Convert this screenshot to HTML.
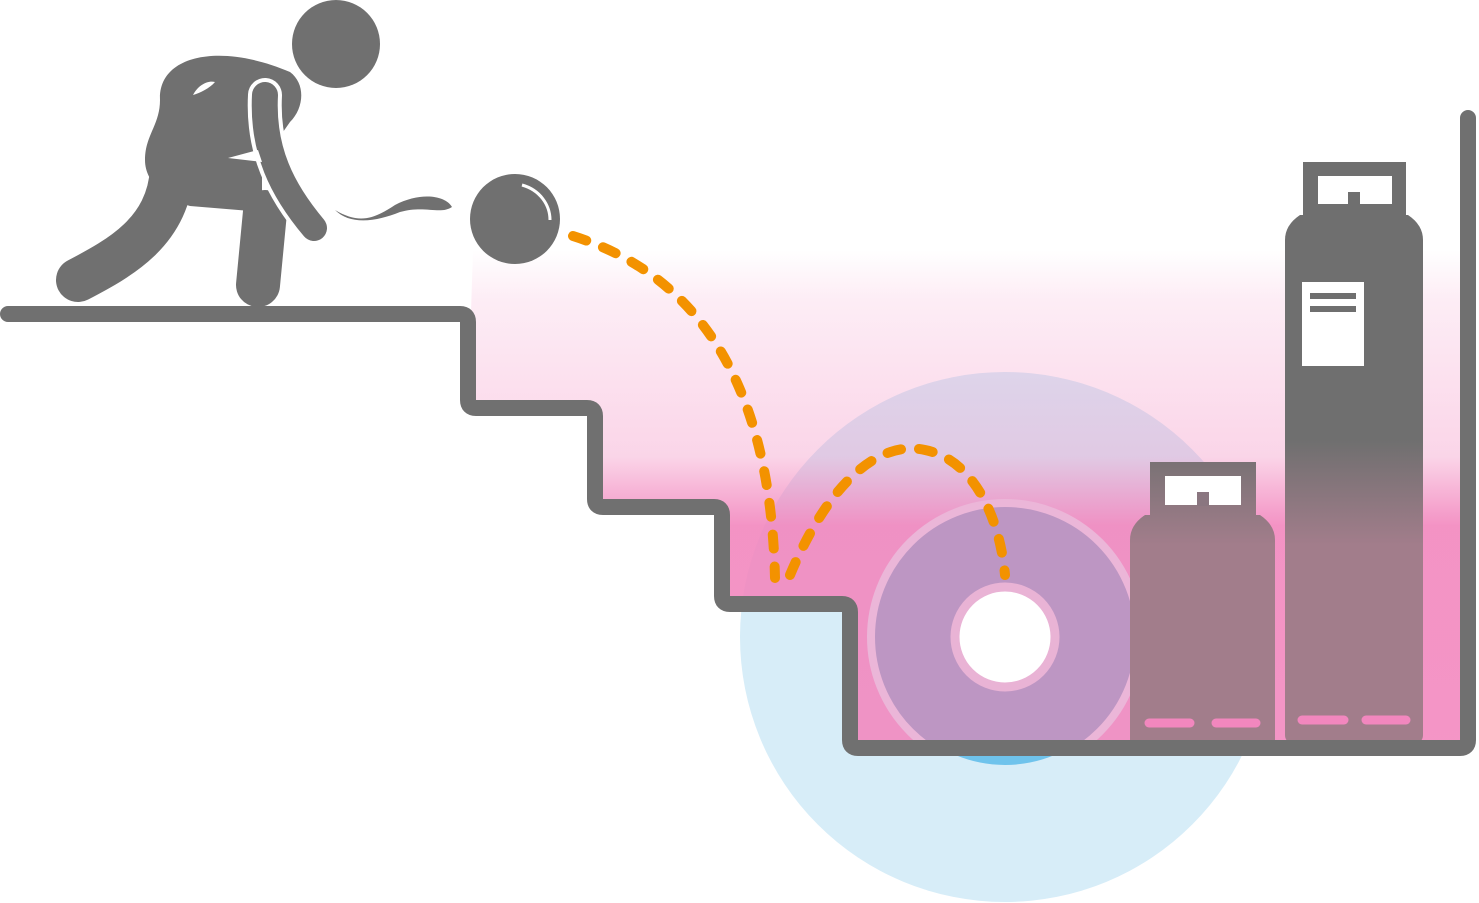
<!DOCTYPE html>
<html><head><meta charset="utf-8"><style>html,body{margin:0;padding:0;background:#fff}svg{display:block}</style></head>
<body>
<svg width="1479" height="903" viewBox="0 0 1479 903" xmlns="http://www.w3.org/2000/svg">
<defs>
<linearGradient id="pk" x1="0" y1="250" x2="0" y2="742" gradientUnits="userSpaceOnUse">
<stop offset="0" stop-color="#f287be" stop-opacity="0"/>
<stop offset="0.1" stop-color="#f287be" stop-opacity="0.15"/>
<stop offset="0.42" stop-color="#f287be" stop-opacity="0.35"/>
<stop offset="0.56" stop-color="#f287be" stop-opacity="0.9"/>
<stop offset="1" stop-color="#f287be" stop-opacity="0.88"/>
</linearGradient>
<linearGradient id="cy" x1="0" y1="440" x2="0" y2="545" gradientUnits="userSpaceOnUse">
<stop offset="0" stop-color="#6f6f6f"/>
<stop offset="1" stop-color="#a27d8b"/>
</linearGradient>
<clipPath id="reg"><path d="M473,250 L1462,250 L1462,742 L850,742 L850,600 L722,600 L722,502 L595,502 L595,404 L468,404 Z"/></clipPath>
</defs>
<circle cx="1005" cy="637" r="265" fill="#d7edf8"/>
<circle cx="1005" cy="637" r="128" fill="#6fc3ec"/>
<rect x="468" y="250" width="995" height="495" fill="url(#pk)" clip-path="url(#reg)"/>
<g clip-path="url(#reg)">
<circle cx="1005" cy="637" r="134" fill="#bd96c3" stroke="#ebb6d8" stroke-width="8"/>
</g>
<circle cx="1005" cy="637" r="50" fill="#fff" stroke="#e9b3d5" stroke-width="9"/>
<g fill="url(#cy)">
<rect x="1303" y="162" width="103" height="55"/>
<path d="M1300,215 L1408,215 Q1423,225 1423,240 L1423,735 Q1423,742 1416,742 L1292,742 Q1285,742 1285,735 L1285,240 Q1285,225 1300,215 Z"/>
<rect x="1150" y="462" width="106" height="55"/>
<path d="M1145,515 L1260,515 Q1275,525 1275,540 L1275,742 L1130,742 L1130,540 Q1130,525 1145,515 Z"/>
</g>
<rect x="1318" y="176" width="74" height="28" fill="#fff"/>
<rect x="1348" y="192" width="12" height="14" fill="#6f6f6f"/>
<rect x="1165" y="476" width="76" height="29" fill="#fff"/>
<rect x="1197" y="492" width="12" height="14" fill="#8a7680"/>
<rect x="1302" y="282" width="62" height="84" fill="#fff"/>
<line x1="1310" y1="296" x2="1356" y2="296" stroke="#6f6f6f" stroke-width="6"/>
<line x1="1310" y1="309" x2="1356" y2="309" stroke="#6f6f6f" stroke-width="6"/>
<g stroke="#f287be" stroke-width="9" stroke-linecap="round">
<line x1="1302" y1="720" x2="1344" y2="720"/><line x1="1366" y1="720" x2="1406" y2="720"/>
<line x1="1149" y1="723" x2="1190" y2="723"/><line x1="1216" y1="723" x2="1256" y2="723"/>
</g>
<path d="M8,314 L460,314 Q468,314 468,322 L468,400 Q468,408 476,408 L587,408 Q595,408 595,416 L595,499 Q595,507 603,507 L714,507 Q722,507 722,515 L722,596 Q722,604 730,604 L842,604 Q850,604 850,612 L850,740 Q850,748 858,748 L1460,748 Q1468,748 1468,740 L1468,118" fill="none" stroke="#707070" stroke-width="16" stroke-linecap="round" stroke-linejoin="round"/>
<g fill="none" stroke="#f39200" stroke-width="10" stroke-linecap="round" stroke-dasharray="14 18">
<path d="M573,236 C680,270 770,360 775,578"/>
<path d="M790,575 C830,480 880,440 925,450 C975,460 1000,520 1005,575"/>
</g>
<circle cx="515" cy="219" r="45" fill="#707070"/>
<path d="M522,185 C540,190 550,205 550,220" fill="none" stroke="#fff" stroke-width="3"/>
<g fill="#707070">
<circle cx="336" cy="44" r="44"/>
<path d="M160,100 C158,55 220,42 290,72 C306,84 304,108 290,122 L262,162 L262,212 L190,206 C170,200 145,185 145,160 C145,135 160,125 160,100 Z"/>
</g>
<path d="M172,170 C168,232 120,258 78,280" fill="none" stroke="#707070" stroke-width="44" stroke-linecap="round"/>
<path d="M265,212 L258,285" fill="none" stroke="#707070" stroke-width="44" stroke-linecap="round"/>
<path d="M265,95 C262,150 282,190 314,228" fill="none" stroke="#fff" stroke-width="34" stroke-linecap="round"/>
<path d="M265,95 C262,150 282,190 314,228" fill="none" stroke="#707070" stroke-width="26" stroke-linecap="round"/>
<path d="M228,158 L258,150 L262,162 Z" fill="#fff"/>
<path d="M193,95 C198,85 208,80 215,82 C210,88 200,93 193,95 Z" fill="#fff"/>
<path d="M335,210 C360,225 375,218 395,205 C420,192 445,195 452,207 C440,215 425,205 400,212 C375,222 350,225 335,210 Z" fill="#707070"/>
</svg>
</body></html>
